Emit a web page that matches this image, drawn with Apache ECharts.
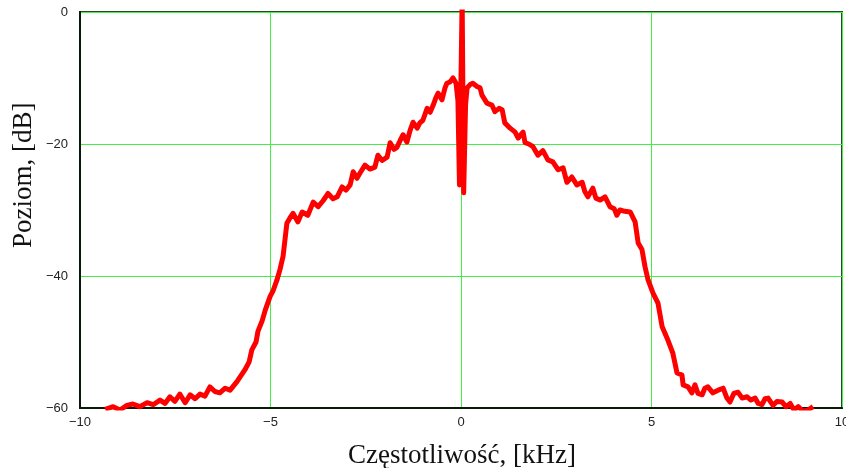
<!DOCTYPE html>
<html>
<head>
<meta charset="utf-8">
<script src="https://cdn.jsdelivr.net/npm/echarts@6/dist/echarts.min.js"></script>
<style>
  html, body { margin: 0; padding: 0; background: #fff; }
  #chart { width: 846px; height: 468px; }
</style>
</head>
<body>
<div id="chart"></div>
<script>
// częstotliwość [kHz]
const freq = [
  -9.34, -9.13, -8.95, -8.77, -8.61, -8.43, -8.24, -8.08, -7.90, -7.77,
  -7.64, -7.51, -7.38, -7.24, -7.11, -6.98, -6.85, -6.72, -6.59, -6.46,
  -6.33, -6.19, -6.06, -5.88, -5.67, -5.56, -5.49, -5.38, -5.33, -5.22,
  -5.14, -5.01, -4.93, -4.83, -4.75, -4.67, -4.57, -4.49, -4.41, -4.28,
  -4.17, -4.02, -3.88, -3.75, -3.62, -3.49, -3.36, -3.25, -3.12, -3.02,
  -2.91, -2.83, -2.73, -2.65, -2.52, -2.39, -2.26, -2.18, -2.07, -1.94,
  -1.86, -1.76, -1.68, -1.60, -1.52, -1.42, -1.34, -1.26, -1.15, -1.08,
  -1.00, -0.89, -0.81, -0.73, -0.66, -0.60, -0.50, -0.42, -0.37, -0.29,
  -0.21, -0.13, -0.08, -0.04, 0.03, 0.07, 0.12, 0.16, 0.24, 0.31,
  0.42, 0.50, 0.55, 0.68, 0.81, 0.89, 1.00, 1.08, 1.15, 1.29,
  1.42, 1.50, 1.57, 1.63, 1.68, 1.78, 1.89, 2.02, 2.15, 2.28,
  2.41, 2.55, 2.68, 2.78, 2.91, 3.04, 3.18, 3.25, 3.33, 3.46,
  3.54, 3.65, 3.78, 3.91, 4.02, 4.09, 4.17, 4.30, 4.44, 4.57,
  4.65, 4.75, 4.83, 4.91, 5.04, 5.17, 5.28, 5.43, 5.56, 5.67,
  5.80, 5.83, 5.96, 6.06, 6.14, 6.22, 6.33, 6.40, 6.48, 6.61,
  6.75, 6.88, 6.98, 7.06, 7.16, 7.27, 7.38, 7.51, 7.61, 7.72,
  7.80, 7.90, 7.98, 8.06, 8.19, 8.29, 8.43, 8.53, 8.64, 8.74,
  8.85, 8.98, 9.11, 9.24
];
// poziom [dB]
const level = [
  -60.2, -59.8, -60.3, -59.6, -59.4, -59.8, -59.2, -59.5, -58.8, -59.3,
  -58.3, -59.0, -57.9, -59.2, -58.0, -58.6, -57.9, -58.2, -56.8, -57.5,
  -57.7, -57.0, -57.3, -56.0, -54.2, -53.0, -51.2, -50.0, -48.4, -46.8,
  -45.2, -43.1, -42.2, -40.6, -39.0, -37.0, -32.0, -31.2, -30.5, -31.8,
  -30.3, -30.8, -28.8, -29.5, -28.6, -27.5, -28.3, -28.0, -26.5, -27.0,
  -26.2, -24.2, -25.2, -24.4, -23.2, -23.8, -23.5, -21.7, -22.5, -22.0,
  -19.8, -20.8, -20.5, -19.5, -18.6, -19.7, -18.0, -16.7, -17.6, -16.8,
  -16.4, -14.6, -15.2, -14.1, -13.0, -12.3, -13.3, -11.5, -10.8, -10.6,
  -10.0, -10.8, -13.5, -26.2, 2.0, -27.4, -14.0, -11.5, -11.0, -10.8,
  -11.3, -11.5, -12.6, -13.8, -14.1, -15.1, -14.6, -14.8, -16.8, -17.6,
  -18.2, -19.1, -18.6, -18.2, -19.8, -20.0, -20.4, -21.7, -21.0, -22.4,
  -22.7, -23.9, -23.6, -25.8, -25.0, -26.2, -25.8, -27.2, -28.0, -26.7,
  -28.2, -28.5, -28.0, -29.5, -29.8, -30.8, -30.0, -30.2, -30.3, -31.8,
  -35.0, -36.0, -38.6, -40.6, -42.6, -44.1, -47.7, -49.7, -51.7, -54.7,
  -55.0, -56.5, -56.8, -57.7, -56.5, -57.8, -58.0, -57.0, -56.8, -57.7,
  -57.3, -57.0, -58.5, -59.1, -57.8, -57.6, -58.5, -58.3, -58.8, -58.5,
  -59.3, -59.5, -58.6, -58.5, -59.6, -59.0, -59.1, -59.8, -59.3, -60.3,
  -59.8, -60.5, -60.3, -59.8
];
const xTicks = [-10, -5, 0, 5, 10];
const yTicks = [0, -20, -40, -60];

const minus = v => (v < 0 ? '\u2212' + Math.abs(v) : String(v));

const chart = echarts.init(document.getElementById('chart'));
chart.setOption({
  animation: false,
  grid: {
    left: 80, right: 4, top: 12, bottom: 60,
    outerBoundsMode: 'none',
    show: true, borderColor: '#254a25', borderWidth: 2
  },
  xAxis: {
    type: 'value',
    min: xTicks[0], max: xTicks[xTicks.length - 1], interval: 5,
    axisLine: { show: true, onZero: false, lineStyle: { color: '#0a1a0a', width: 2 } },
    axisTick: { show: false },
    axisLabel: {
      formatter: minus, margin: 8,
      fontFamily: 'Liberation Sans, Arial', fontSize: 13, color: '#222',
      showMinLabel: true, showMaxLabel: true
    },
    splitLine: { lineStyle: { color: '#44ee44', width: 1 } }
  },
  yAxis: {
    type: 'value',
    min: yTicks[yTicks.length - 1], max: yTicks[0], interval: 20,
    axisLine: { show: true, onZero: false, lineStyle: { color: '#0a1a0a', width: 2 } },
    axisTick: { show: false },
    axisLabel: {
      formatter: minus, margin: 12,
      fontFamily: 'Liberation Sans, Arial', fontSize: 13, color: '#222'
    },
    splitLine: { lineStyle: { color: '#44ee44', width: 1 } }
  },
  graphic: [
    {
      type: 'text', x: 462, y: 442,
      style: {
        text: 'Częstotliwość, [kHz]',
        font: '27px "Liberation Serif", "Times New Roman", serif',
        fill: '#111', align: 'center'
      }
    },
    {
      type: 'text', x: 10, y: 248, rotation: Math.PI / 2,
      style: {
        text: 'Poziom, [dB]',
        font: '27px "Liberation Serif", "Times New Roman", serif',
        fill: '#111'
      }
    }
  ],
  series: [{
    type: 'line',
    data: freq.map((f, i) => [f, level[i]]),
    showSymbol: false,
    clip: true,
    lineStyle: { color: '#ff0000', width: 5, join: 'round' }
  }]
});
</script>
</body>
</html>
